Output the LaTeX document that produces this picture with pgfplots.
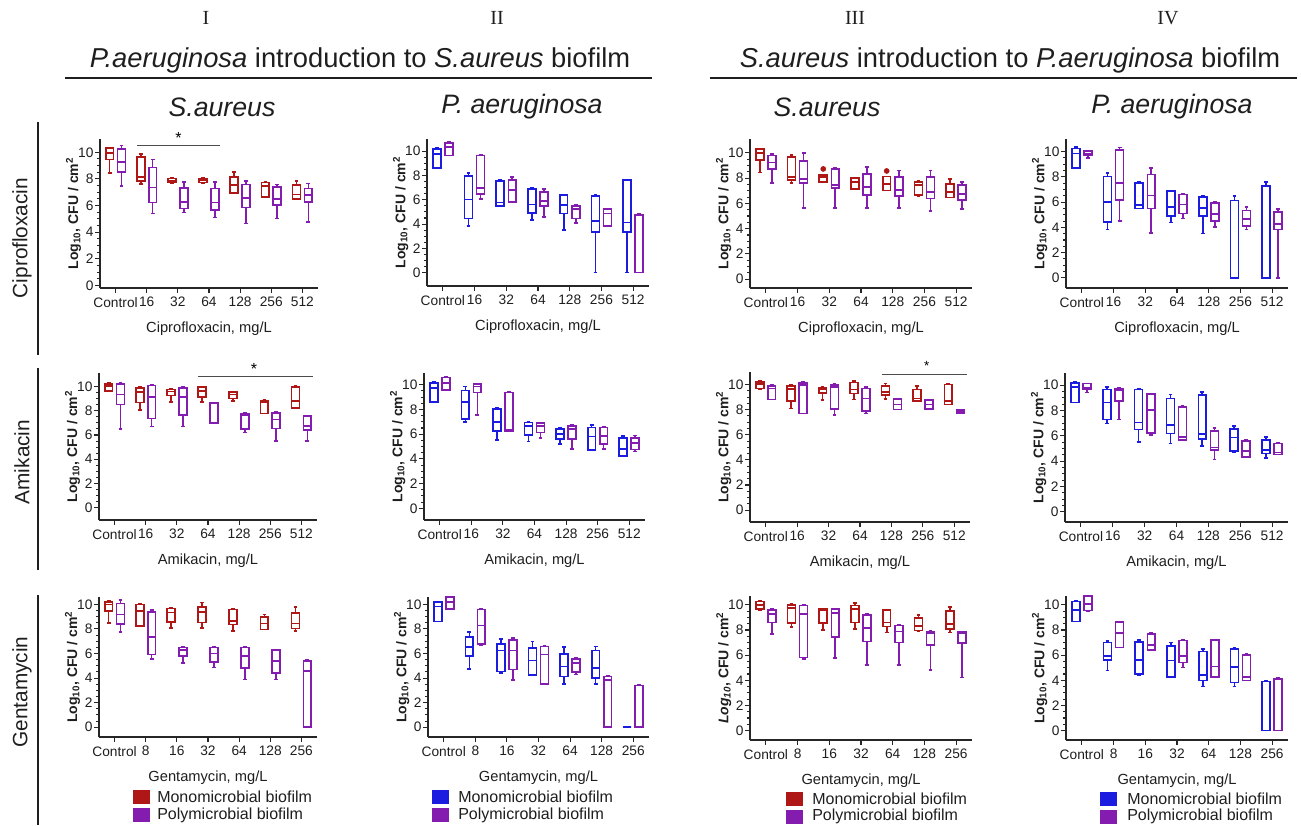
\documentclass[border=0pt]{standalone}
\usepackage{fontspec}
\setmainfont{Liberation Sans}
\newfontfamily\seriffont{Liberation Serif}
\usepackage{pgfplots}
\pgfplotsset{compat=1.18}
\usepgfplotslibrary{statistics}
\definecolor{monored}{RGB}{175,22,22}
\definecolor{polypurple}{RGB}{132,28,176}
\definecolor{monoblue}{RGB}{28,28,225}
\definecolor{txt}{RGB}{30,30,30}
\newcommand{\bx}[7]{\addplot[#1,boxplot prepared={draw position=#2,lower whisker=#3,lower quartile=#4,median=#5,upper quartile=#6,upper whisker=#7}] coordinates {};}
\pgfplotsset{
  panel/.style={
    scale only axis, anchor=south west, clip=false,
    axis lines=left, axis line style={-, line width=0.9pt, draw=black!85},
    xmin=-0.5, xmax=6.5, xtick={0,...,6},
    ytick={0,2,4,6,8,10}, minor y tick num=3,
    tick align=outside, major tick length=3.5pt, minor tick length=2pt,
    tick style={black!85, line width=0.8pt},
    tick label style={font=\fontsize{10.3}{12}\selectfont, text=txt},
    yticklabel style={inner xsep=1.2pt},
    /pgf/number format/assume math mode=true,
    ylabel={\bfseries Log\textsubscript{10}, CFU / cm\textsuperscript{2}},
    ylabel style={font=\fontsize{10.5}{12}\selectfont, text=txt},
    ylabel shift=-7pt,
    xlabel style={font=\fontsize{11}{13}\selectfont, text=txt, yshift=-4pt},
    boxplot/draw direction=y,
    boxplot/box extend=0.25,
    boxplot/whisker extend=0.12,
  },
  cipro/.style={xticklabels={Control,16,32,64,128,256,512}, xlabel={Ciprofloxacin, mg/L}},
  amik/.style={xticklabels={Control,16,32,64,128,256,512}, xlabel={Amikacin, mg/L}},
  genta/.style={xticklabels={Control,8,16,32,64,128,256}, xlabel={Gentamycin, mg/L}},
  R/.style={draw=monored, line width=1.25pt},
  P/.style={draw=polypurple, line width=1.25pt},
  B/.style={draw=monoblue, line width=1.25pt},
}
\begin{document}
\begin{tikzpicture}
\path[use as bounding box] (0,0) rectangle (975.75pt,-618.75pt);
\begin{scope}[x=0.75pt,y=-0.75pt]
\node[font=\seriffont\fontsize{15}{18}\selectfont, text=txt] at (206,18) {I};
\node[font=\seriffont\fontsize{15}{18}\selectfont, text=txt] at (497,18) {II};
\node[font=\seriffont\fontsize{15}{18}\selectfont, text=txt] at (855,18) {III};
\node[font=\seriffont\fontsize{15}{18}\selectfont, text=txt] at (1168,18) {IV};
\node[font=\fontsize{20.5}{24}\selectfont, text=txt] at (360,60) {\textit{P.aeruginosa} introduction to \textit{S.aureus} biofilm};
\node[font=\fontsize{20.5}{24}\selectfont, text=txt] at (1010,60) {\textit{S.aureus} introduction to \textit{P.aeruginosa} biofilm};
\draw[line width=1.5pt, txt] (65,78) -- (652,78);
\draw[line width=1.5pt, txt] (710,78) -- (1297,78);
\node[font=\fontsize{20}{24}\selectfont\itshape, text=txt] at (222,107) {S.aureus};
\node[font=\fontsize{20}{24}\selectfont\itshape, text=txt] at (522,107) {P. aeruginosa};
\node[font=\fontsize{20}{24}\selectfont\itshape, text=txt] at (827,107) {S.aureus};
\node[font=\fontsize{20}{24}\selectfont\itshape, text=txt] at (1172,107) {P. aeruginosa};
\node[font=\fontsize{15.6}{18}\selectfont, text=txt, rotate=90] at (22,238) {Ciprofloxacin};
\node[font=\fontsize{15.6}{18}\selectfont, text=txt, rotate=90] at (22,462) {Amikacin};
\node[font=\fontsize{15.6}{18}\selectfont, text=txt, rotate=90] at (22,692) {Gentamycin};
\draw[line width=1.2pt, txt] (38,122) -- (38,355);
\draw[line width=1.2pt, txt] (38,368) -- (38,570);
\draw[line width=1.2pt, txt] (38,595) -- (38,825);
% legends
\begin{scope}[every node/.style={anchor=west, font=\fontsize{12}{14}\selectfont, text=txt, inner sep=0pt}]
\fill[monored] (133,790) rectangle (150,804); \node at (157,797) {Monomicrobial biofilm};
\fill[polypurple] (133,808) rectangle (150,822); \node at (157,815) {Polymicrobial biofilm};
\fill[monoblue] (432,790) rectangle (449,804); \node at (458,797) {Monomicrobial biofilm};
\fill[polypurple] (432,808) rectangle (449,822); \node at (458,815) {Polymicrobial biofilm};
\fill[monored] (786,792) rectangle (803,806); \node at (812,799) {Monomicrobial biofilm};
\fill[polypurple] (786,810) rectangle (803,824); \node at (812,816.5) {Polymicrobial biofilm};
\fill[monoblue] (1100,792) rectangle (1117,806); \node at (1127,799) {Monomicrobial biofilm};
\fill[polypurple] (1100,810) rectangle (1117,824); \node at (1127,816.5) {Polymicrobial biofilm};
\end{scope}
\end{scope}

% ---------------- Row 1: Ciprofloxacin ----------------
\begin{axis}[panel, cipro, at={(75pt,-216pt)}, width=163.5pt, height=111.75pt, ymin=-0.2, ymax=11]
\bx{R}{-0.19}{8.45}{9.45}{9.95}{10.3}{10.35}
\bx{P}{0.19}{7.46}{8.5}{9.25}{10.25}{10.5}
\bx{R}{0.81}{7.61}{7.84}{8.12}{9.67}{9.87}
\bx{P}{1.19}{5.4}{6.23}{7.36}{8.87}{9.47}
\bx{R}{1.81}{7.71}{7.74}{7.86}{8.04}{8.09}
\bx{P}{2.19}{5.48}{5.78}{6.28}{7.34}{7.79}
\bx{R}{2.81}{7.7}{7.74}{7.89}{8.0}{8.06}
\bx{P}{3.19}{5.1}{5.65}{6.23}{7.29}{7.79}
\bx{R}{3.81}{6.96}{6.96}{7.54}{8.12}{8.54}
\bx{P}{4.19}{4.65}{5.85}{6.58}{7.59}{7.84}
\bx{R}{4.81}{6.62}{6.66}{7.49}{7.74}{7.79}
\bx{P}{5.19}{5.03}{6.03}{6.48}{7.41}{7.59}
\bx{R}{5.81}{6.48}{6.48}{6.83}{7.54}{7.84}
\bx{P}{6.19}{4.77}{6.28}{6.78}{7.29}{7.66}
\addplot[black!70, line width=0.8pt] coordinates {(0.69,10.5) (3.35,10.5)};
\node[font=\fontsize{12}{12}\selectfont] at (axis cs:2.02,11.1) {*};
\end{axis}

\begin{axis}[panel, cipro, at={(320.25pt,-214.5pt)}, width=166.5pt, height=110.25pt, ymin=-1.1, ymax=11]
\bx{B}{-0.19}{8.63}{8.63}{9.78}{10.19}{10.27}
\bx{P}{0.19}{9.64}{9.64}{10.33}{10.65}{10.75}
\bx{B}{0.81}{3.85}{4.45}{6.01}{7.95}{8.22}
\bx{P}{1.19}{6.04}{6.5}{6.99}{9.64}{9.66}
\bx{B}{1.81}{5.46}{5.46}{5.77}{7.54}{7.6}
\bx{P}{2.19}{5.82}{5.82}{6.78}{7.6}{7.87}
\bx{B}{2.81}{4.32}{4.92}{5.6}{6.91}{6.97}
\bx{P}{3.19}{4.59}{5.49}{5.87}{6.64}{6.86}
\bx{B}{3.81}{3.5}{4.86}{5.55}{6.37}{6.42}
\bx{P}{4.19}{4.1}{4.45}{5.22}{5.49}{5.55}
\bx{B}{4.81}{0}{3.36}{4.23}{6.31}{6.42}
\bx{P}{5.19}{3.85}{3.85}{4.86}{5.22}{5.27}
\bx{B}{5.81}{0}{3.36}{4.13}{7.6}{7.65}
\bx{P}{6.19}{0}{0}{0}{4.75}{4.8}
\end{axis}

\begin{axis}[panel, cipro, at={(562.5pt,-216pt)}, width=166.5pt, height=111.75pt, ymin=-0.7, ymax=11.1]
\bx{R}{-0.19}{8.44}{9.44}{9.97}{10.29}{10.32}
\bx{P}{0.19}{7.59}{8.73}{9.23}{9.79}{9.92}
\bx{R}{0.81}{7.59}{7.86}{8.07}{9.66}{9.84}
\bx{P}{1.19}{5.66}{7.59}{7.91}{9.37}{9.97}
\bx{R}{1.81}{7.67}{7.72}{8.07}{8.25}{8.3}
\bx{P}{2.19}{5.66}{7.2}{7.46}{8.7}{8.84}
\bx{R}{2.81}{7.14}{7.14}{7.67}{7.99}{8.0}
\bx{P}{3.19}{5.66}{6.67}{7.28}{8.33}{8.86}
\bx{R}{3.81}{7.01}{7.01}{7.54}{8.12}{8.14}
\bx{P}{4.19}{5.66}{6.61}{7.06}{8.07}{8.6}
\bx{R}{4.81}{6.61}{6.67}{7.46}{7.72}{7.78}
\bx{P}{5.19}{5.4}{6.4}{6.88}{8.07}{8.6}
\bx{R}{5.81}{6.46}{6.46}{6.88}{7.54}{7.91}
\bx{P}{6.19}{5.56}{6.27}{6.75}{7.46}{7.72}
\addplot[only marks, mark=*, mark size=1.9pt, monored] coordinates {(1.81,8.73) (3.81,8.57)};
\end{axis}

\begin{axis}[panel, cipro, at={(799.5pt,-216pt)}, width=166.5pt, height=111.75pt, ymin=-0.8, ymax=11]
\bx{B}{-0.19}{8.73}{8.73}{9.84}{10.26}{10.37}
\bx{P}{0.19}{9.52}{9.74}{9.84}{10.05}{10.05}
\bx{B}{0.81}{3.84}{4.44}{6.03}{8.02}{8.33}
\bx{P}{1.19}{4.5}{6.16}{7.49}{10.13}{10.32}
\bx{B}{1.81}{5.5}{5.5}{5.77}{7.49}{7.62}
\bx{P}{2.19}{3.57}{5.5}{6.53}{8.2}{8.73}
\bx{B}{2.81}{4.4}{4.9}{5.63}{6.88}{6.93}
\bx{P}{3.19}{4.71}{5.1}{5.82}{6.61}{6.67}
\bx{B}{3.81}{3.52}{4.9}{5.56}{6.43}{6.48}
\bx{P}{4.19}{4.02}{4.5}{5.08}{5.95}{6.0}
\bx{B}{4.81}{0}{0}{0}{6.14}{6.48}
\bx{P}{5.19}{3.84}{4.1}{4.68}{5.34}{5.6}
\bx{B}{5.81}{0}{0}{0}{7.28}{7.62}
\bx{P}{6.19}{0}{3.84}{4.29}{5.24}{5.48}
\end{axis}

% ---------------- Row 2: Amikacin ----------------
\begin{axis}[panel, amik, at={(74.25pt,-390pt)}, width=163.5pt, height=110.25pt, ymin=-1.0, ymax=11.1]
\bx{R}{-0.19}{9.62}{9.62}{10.03}{10.22}{10.27}
\bx{P}{0.19}{6.5}{8.5}{9.32}{10.22}{10.27}
\bx{R}{0.81}{8.04}{8.66}{9.54}{9.86}{9.95}
\bx{P}{1.19}{6.7}{7.36}{9.13}{10.08}{10.1}
\bx{R}{1.81}{8.72}{9.26}{9.59}{9.75}{9.81}
\bx{P}{2.19}{6.7}{7.63}{9.13}{9.89}{9.95}
\bx{R}{2.81}{8.72}{9.13}{9.62}{9.95}{10.0}
\bx{P}{3.19}{6.95}{6.95}{7.0}{8.64}{8.66}
\bx{R}{3.81}{8.77}{8.99}{9.32}{9.54}{9.56}
\bx{P}{4.19}{6.19}{6.49}{7.63}{7.77}{7.82}
\bx{R}{4.81}{7.77}{7.77}{8.66}{8.8}{8.86}
\bx{P}{5.19}{5.53}{6.54}{7.28}{7.82}{7.9}
\bx{R}{5.81}{8.23}{8.23}{8.8}{9.95}{10.03}
\bx{P}{6.19}{5.53}{6.4}{6.76}{7.57}{7.6}
\addplot[black!70, line width=0.8pt] coordinates {(2.69,10.8) (6.38,10.8)};
\node[font=\fontsize{12}{12}\selectfont] at (axis cs:4.48,11.45) {*};
\end{axis}

\begin{axis}[panel, amik, at={(318pt,-390pt)}, width=165.75pt, height=110.25pt, ymin=-0.95, ymax=10.95]
\bx{B}{-0.19}{8.59}{8.59}{9.73}{10.14}{10.22}
\bx{P}{0.19}{9.59}{9.59}{10.14}{10.59}{10.68}
\bx{B}{0.81}{6.97}{7.22}{8.59}{9.54}{9.86}
\bx{P}{1.19}{7.57}{9.38}{9.86}{10.05}{10.07}
\bx{B}{1.81}{5.54}{6.27}{6.97}{8.03}{8.11}
\bx{P}{2.19}{6.27}{6.27}{6.35}{9.38}{9.46}
\bx{B}{2.81}{5.41}{5.95}{6.68}{6.95}{6.97}
\bx{P}{3.19}{5.68}{6.14}{6.68}{6.89}{6.95}
\bx{B}{3.81}{5.22}{5.59}{6.03}{6.41}{6.49}
\bx{P}{4.19}{4.78}{5.62}{6.41}{6.68}{6.76}
\bx{B}{4.81}{4.73}{4.73}{5.81}{6.54}{6.76}
\bx{P}{5.19}{4.78}{5.22}{5.86}{6.54}{6.62}
\bx{B}{5.81}{4.24}{4.24}{4.78}{5.68}{5.86}
\bx{P}{6.19}{4.6}{4.75}{5.3}{5.7}{5.9}
\end{axis}

\begin{axis}[panel, amik, at={(562.5pt,-391.5pt)}, width=165pt, height=112.5pt, ymin=-0.95, ymax=11]
\bx{R}{-0.19}{9.6}{9.68}{10.03}{10.21}{10.29}
\bx{P}{0.19}{8.81}{8.81}{9.68}{9.89}{9.95}
\bx{R}{0.81}{8.09}{8.67}{9.63}{9.89}{10.0}
\bx{P}{1.19}{7.69}{7.69}{9.95}{10.13}{10.21}
\bx{R}{1.81}{8.75}{9.34}{9.6}{9.73}{9.81}
\bx{P}{2.19}{7.56}{8.04}{9.81}{9.95}{10.03}
\bx{R}{2.81}{8.81}{9.28}{9.6}{10.16}{10.27}
\bx{P}{3.19}{7.69}{7.88}{8.89}{9.68}{9.81}
\bx{R}{3.81}{8.83}{9.15}{9.42}{9.89}{10.08}
\bx{P}{4.19}{8.01}{8.01}{8.41}{8.83}{8.89}
\bx{R}{4.81}{8.67}{8.67}{8.89}{9.6}{9.89}
\bx{P}{5.19}{8.04}{8.04}{8.41}{8.75}{8.81}
\bx{R}{5.81}{8.41}{8.41}{8.7}{10.0}{10.03}
\bx{P}{6.19}{7.69}{7.69}{7.82}{7.96}{7.96}
\addplot[black!70, line width=0.8pt] coordinates {(3.69,10.82) (6.42,10.82)};
\node[font=\fontsize{10}{10}\selectfont] at (axis cs:5.12,11.45) {*};
\end{axis}

\begin{axis}[panel, amik, at={(798.75pt,-391.5pt)}, width=167.25pt, height=111.75pt, ymin=-0.8, ymax=10.95]
\bx{B}{-0.19}{8.63}{8.63}{9.87}{10.18}{10.26}
\bx{P}{0.19}{9.42}{9.68}{9.79}{10.13}{10.13}
\bx{B}{0.81}{6.97}{7.29}{8.63}{9.66}{9.87}
\bx{P}{1.19}{7.29}{8.74}{9.61}{9.74}{9.76}
\bx{B}{1.81}{5.53}{6.5}{7.05}{9.66}{9.74}
\bx{P}{2.19}{6.05}{6.24}{8.03}{9.29}{9.34}
\bx{B}{2.81}{5.39}{6.18}{6.84}{8.95}{9.26}
\bx{P}{3.19}{5.66}{5.66}{5.92}{8.29}{8.34}
\bx{B}{3.81}{5.21}{5.74}{6.13}{9.21}{9.47}
\bx{P}{4.19}{4.13}{4.87}{5.08}{6.37}{6.63}
\bx{B}{4.81}{4.74}{4.82}{5.87}{6.53}{6.79}
\bx{P}{5.19}{4.34}{4.34}{4.79}{5.58}{5.66}
\bx{B}{5.81}{4.26}{4.61}{4.87}{5.66}{5.92}
\bx{P}{6.19}{4.53}{4.53}{4.68}{5.39}{5.47}
\end{axis}

% ---------------- Row 3: Gentamycin ----------------
\begin{axis}[panel, genta, at={(74.25pt,-552.75pt)}, width=163.5pt, height=105pt, ymin=-0.8, ymax=10.6]
\bx{R}{-0.19}{8.5}{9.48}{10.0}{10.22}{10.27}
\bx{P}{0.19}{7.77}{8.39}{9.18}{10.08}{10.35}
\bx{R}{0.81}{8.23}{8.23}{9.46}{10.0}{10.03}
\bx{P}{1.19}{5.53}{5.91}{7.36}{9.4}{9.54}
\bx{R}{1.81}{8.09}{8.58}{9.35}{9.67}{9.73}
\bx{P}{2.19}{5.23}{5.78}{6.27}{6.49}{6.54}
\bx{R}{2.81}{8.09}{8.53}{9.4}{9.81}{10.14}
\bx{P}{3.19}{4.85}{5.31}{5.99}{6.49}{6.54}
\bx{R}{3.81}{7.82}{8.37}{8.64}{9.59}{9.67}
\bx{P}{4.19}{3.87}{4.82}{5.8}{6.49}{6.54}
\bx{R}{4.81}{7.96}{7.96}{8.45}{8.99}{9.18}
\bx{P}{5.19}{3.87}{4.41}{5.4}{6.27}{6.32}
\bx{R}{5.81}{7.82}{8.04}{8.45}{9.32}{9.81}
\bx{P}{6.19}{0}{0}{4.55}{5.37}{5.45}
\end{axis}

\begin{axis}[panel, genta, at={(321pt,-552.75pt)}, width=165.75pt, height=105pt, ymin=-0.8, ymax=10.6]
\bx{B}{-0.19}{8.61}{8.61}{9.84}{10.19}{10.24}
\bx{P}{0.19}{9.57}{9.65}{10.19}{10.6}{10.65}
\bx{B}{0.81}{4.76}{5.79}{6.52}{7.34}{7.74}
\bx{P}{1.19}{6.66}{6.79}{8.29}{9.57}{9.65}
\bx{B}{1.81}{4.43}{4.54}{6.25}{6.79}{7.2}
\bx{P}{2.19}{3.86}{4.7}{6.25}{7.12}{7.28}
\bx{B}{2.81}{4.21}{4.27}{5.43}{6.47}{6.98}
\bx{P}{3.19}{3.53}{3.53}{5.92}{6.58}{6.66}
\bx{B}{3.81}{3.53}{4.13}{4.95}{5.98}{6.52}
\bx{P}{4.19}{4.29}{4.48}{5.22}{5.57}{5.63}
\bx{B}{4.81}{3.53}{4.02}{4.84}{6.25}{6.58}
\bx{P}{5.19}{0}{0}{3.86}{4.13}{4.16}
\bx{B}{5.81}{0}{0}{0}{0}{0}
\bx{P}{6.19}{0}{0}{0}{3.4}{3.45}
\end{axis}

\begin{axis}[panel, genta, at={(562.5pt,-555pt)}, width=166.5pt, height=108pt, ymin=-0.75, ymax=10.7,
  ylabel={\bfseries\itshape Log\textsubscript{10}\upshape, CFU / cm\textsuperscript{2}}]
\bx{R}{-0.19}{9.6}{9.65}{10.0}{10.27}{10.32}
\bx{P}{0.19}{7.67}{8.59}{9.28}{9.6}{9.68}
\bx{R}{0.81}{8.22}{8.54}{9.73}{10.0}{10.05}
\bx{P}{1.19}{5.7}{5.81}{9.28}{9.95}{10.0}
\bx{R}{1.81}{8.01}{8.54}{9.6}{9.68}{9.7}
\bx{P}{2.19}{5.76}{7.43}{9.34}{9.65}{9.67}
\bx{R}{2.81}{8.06}{8.59}{9.65}{9.95}{10.13}
\bx{P}{3.19}{5.23}{7.08}{8.14}{9.2}{9.26}
\bx{R}{3.81}{7.8}{8.28}{8.59}{9.6}{9.62}
\bx{P}{4.19}{5.23}{7.0}{7.88}{8.36}{8.41}
\bx{R}{4.81}{7.88}{7.96}{8.33}{8.94}{9.2}
\bx{P}{5.19}{4.83}{6.82}{7.75}{7.88}{7.93}
\bx{R}{5.81}{7.8}{8.06}{8.46}{9.52}{9.81}
\bx{P}{6.19}{4.22}{6.95}{7.75}{7.82}{7.88}
\end{axis}

\begin{axis}[panel, genta, at={(799.5pt,-555pt)}, width=166.5pt, height=108pt, ymin=-0.75, ymax=10.7]
\bx{B}{-0.19}{8.67}{8.67}{9.6}{10.27}{10.32}
\bx{P}{0.19}{9.47}{9.55}{10.05}{10.72}{10.74}
\bx{B}{0.81}{4.77}{5.62}{5.94}{7.0}{7.14}
\bx{P}{1.19}{6.6}{6.6}{7.75}{8.62}{8.67}
\bx{B}{1.81}{4.43}{4.48}{5.62}{7.03}{7.21}
\bx{P}{2.19}{6.37}{6.42}{6.82}{7.69}{7.75}
\bx{B}{2.81}{4.24}{4.24}{5.57}{6.74}{7.0}
\bx{P}{3.19}{5.01}{5.41}{5.94}{7.16}{7.21}
\bx{B}{3.81}{3.5}{3.98}{4.43}{6.29}{6.5}
\bx{P}{4.19}{4.24}{4.24}{5.09}{7.21}{7.23}
\bx{B}{4.81}{3.5}{3.82}{5.04}{6.47}{6.55}
\bx{P}{5.19}{3.98}{3.98}{4.24}{6.02}{6.1}
\bx{B}{5.81}{0}{0}{0}{3.9}{3.98}
\bx{P}{6.19}{0}{0}{0}{4.08}{4.16}
\end{axis}
\end{tikzpicture}
\end{document}
